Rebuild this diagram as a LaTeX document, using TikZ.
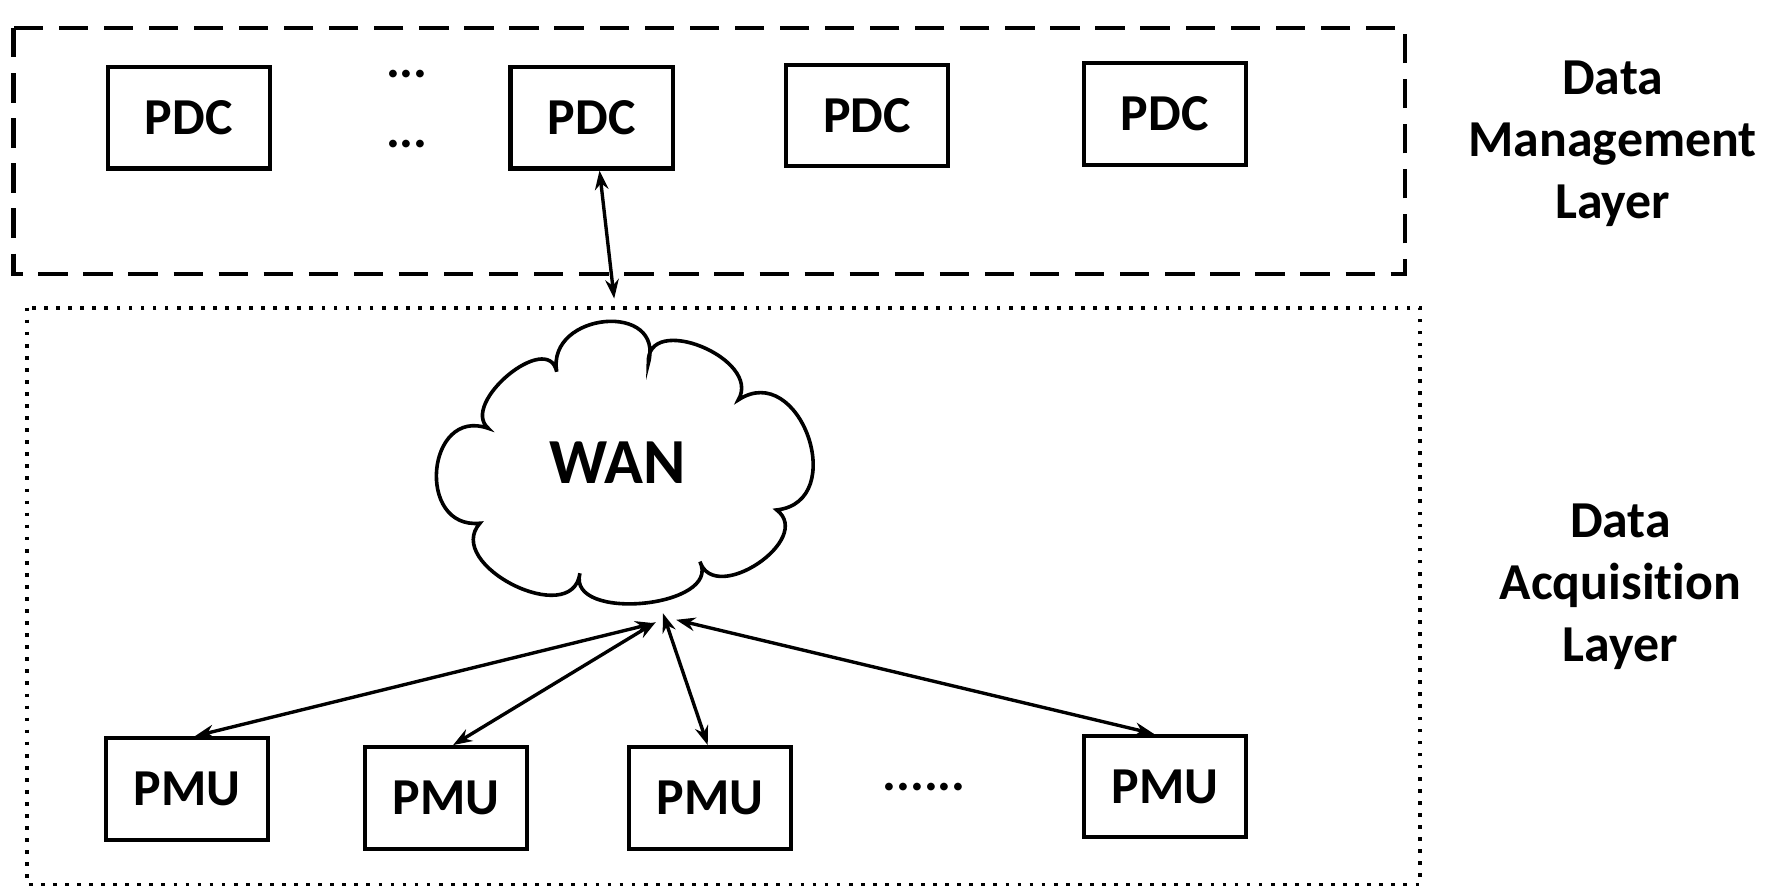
\documentclass[tikz,border=0pt]{standalone}
\usepackage{fontspec}
\setmainfont{Carlito}[RawFeature={-liga;-clig;-dlig}]
\usetikzlibrary{arrows.meta,calc}

% one puff of the cloud: from #1 to #3, bulging through #2
\newcommand\cloudbump[3]{.. controls ($0.4833*(#1)+1.3333*(#2)-0.8167*(#3)$) and ($0.4833*(#3)+1.3333*(#2)-0.8167*(#1)$) .. (#3)}

\begin{document}
\begin{tikzpicture}[x=1pt,y=-1pt,
  bigfont/.style={font=\fontsize{46}{55}\selectfont\bfseries},
  unitbox/.style={draw, line width=3.6pt, minimum width=144pt, minimum height=90pt,
                  inner sep=0pt, bigfont},
  link/.style={line width=3pt,
               {Stealth[length=17pt,width=12pt]}-{Stealth[length=17pt,width=12pt]}},
  layerlabel/.style={bigfont, align=center},
]
\useasboundingbox (0,0) rectangle (1568,787);

% layer frames
\draw[line width=3.8pt, dash pattern=on 26pt off 14pt] (12,25) rectangle (1247,243);
\draw[line width=3.3pt, dash pattern=on 3.3pt off 7.4pt] (24,273) rectangle (1260,785);

% data management layer
\node[unitbox] (pdc1) at (167.5,104.5) {PDC};
\node[unitbox] (pdc2) at (525,104.5) {PDC};
\node[unitbox] (pdc3) at (769.5,102.5) {PDC};
\node[unitbox] (pdc4) at (1033.5,101) {PDC};
\node[bigfont, anchor=base, inner sep=0pt] (dotsa) at (361,69) {...};
\node[bigfont, anchor=base, inner sep=0pt] (dotsb) at (361,130.5) {...};

% the wide area network cloud
\coordinate (c1) at (494,329.8);
\coordinate (c2) at (575.3,322.4);
\coordinate (c3) at (655.1,354.9);
\coordinate (c4) at (689.2,452.5);
\coordinate (c5) at (621.1,498.4);
\coordinate (c6) at (514.6,508.7);
\coordinate (c7) at (425.9,464.3);
\coordinate (c8) at (433.3,380.1);
\coordinate (p1) at (451.1,332.7);
\coordinate (p2) at (537,285.4);
\coordinate (p3) at (622.6,307.6);
\coordinate (p4) at (717.2,387.5);
\coordinate (p5) at (672.9,499.9);
\coordinate (p6) at (570.9,535.3);
\coordinate (p7) at (455.5,519.1);
\coordinate (p8) at (387.5,417);
\draw[line width=3.2pt, line join=miter, fill=white]
  (c8) \cloudbump{c8}{p1}{c1} \cloudbump{c1}{p2}{c2} \cloudbump{c2}{p3}{c3}
       \cloudbump{c3}{p4}{c4} \cloudbump{c4}{p5}{c5} \cloudbump{c5}{p6}{c6}
       \cloudbump{c6}{p7}{c7} \cloudbump{c7}{p8}{c8} -- cycle;
\node[font=\fontsize{57}{60}\selectfont\bfseries] (wan) at (548,411) {WAN};

% data acquisition layer
\node[unitbox] (pmu1) at (166,700) {PMU};
\node[unitbox] (pmu2) at (396,708) {PMU};
\node[unitbox] (pmu3) at (630,708) {PMU};
\node[unitbox] (pmu4) at (1034,698) {PMU};
\node[bigfont, anchor=base, inner sep=0pt] (dotsc) at (820,701.6) {......};

% connections
\coordinate (wanin) at (545,265);
\coordinate (hubA) at (580.7,553);
\coordinate (hubB) at (582,552);
\coordinate (hubC) at (588.3,544.2);
\coordinate (hubD) at (600,550);
\draw[link] ([xshift=7pt]pdc2.south) -- (wanin);
\draw[link] (hubA) -- ([xshift=7pt]pmu1.north);
\draw[link] (hubB) -- ([xshift=6pt]pmu2.north);
\draw[link] (hubC) -- ([xshift=-2pt]pmu3.north);
\draw[link] (hubD) -- ([xshift=-10pt]pmu4.north);

% layer names
\node[layerlabel] (mgmt) at (1431,128) {Data\\Management\\Layer};
\node[layerlabel] (acq) at (1438,521) {Data\\Acquisition\\Layer};
\end{tikzpicture}
\end{document}
